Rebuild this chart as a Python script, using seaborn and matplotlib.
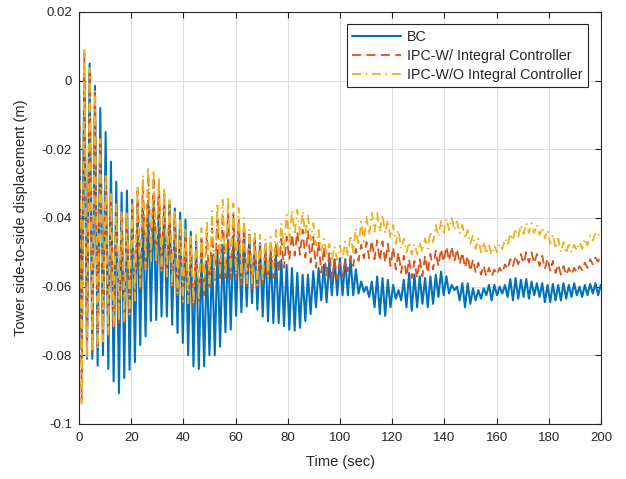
import numpy as np
import pandas as pd
import seaborn as sns
import matplotlib
matplotlib.use("Agg")
import matplotlib.pyplot as plt
from matplotlib.ticker import FixedLocator, FixedFormatter

# ---------------- data ----------------
PERIOD = 2.04          # oscillation period (s) of the tower mode
START_VALUE = 0.0      # value at t = 0 for all series

# BC: troughs (t = 1.02 + 2.04k) and peaks (t = 2.04(k+1))
bc_trough = [
    -0.078, -0.081, -0.081, -0.083, -0.080, -0.084, -0.0876, -0.091, -0.0866, -0.0842,
    -0.082, -0.077, -0.0745, -0.070, -0.0697, -0.0687, -0.0687, -0.0711, -0.0735, -0.0764,
    -0.080, -0.0832, -0.084, -0.0832, -0.080, -0.080, -0.0775, -0.0733, -0.0725, -0.0685,
    -0.0675, -0.0658, -0.0648, -0.0667, -0.0687, -0.0701, -0.0706, -0.0706, -0.0715, -0.0725,
    -0.0728, -0.072, -0.070, -0.068, -0.066, -0.064, -0.0645, -0.0625, -0.0625, -0.0625,
    -0.0625, -0.0625, -0.062, -0.0615, -0.063, -0.066, -0.068, -0.0685, -0.066, -0.0635,
    -0.064, -0.066, -0.067, -0.066, -0.065, -0.066, -0.065, -0.063, -0.0625, -0.062,
    -0.061, -0.064, -0.066, -0.065, -0.064, -0.0635, -0.0625, -0.064, -0.0625, -0.062,
    -0.063, -0.064, -0.0635, -0.063, -0.0635, -0.0625, -0.063, -0.0645, -0.0645, -0.064,
    -0.064, -0.0635, -0.063, -0.0625, -0.063, -0.0625, -0.062, -0.0625,
]
bc_peak = [
    0.002, 0.005, -0.0015, -0.008, -0.015, -0.0236, -0.0294, -0.0326, -0.032, -0.0347,
    -0.036, -0.036, -0.035, -0.034, -0.034, -0.035, -0.036, -0.0372, -0.0384, -0.0405,
    -0.044, -0.0468, -0.050, -0.0527, -0.051, -0.0493, -0.0478, -0.0464, -0.0452, -0.0435,
    -0.0435, -0.0449, -0.0459, -0.0473, -0.0478, -0.0493, -0.0507, -0.0522, -0.0537, -0.0546,
    -0.056, -0.0565, -0.0565, -0.0555, -0.0546, -0.0536, -0.0527, -0.052, -0.0517, -0.052,
    -0.052, -0.055, -0.0585, -0.060, -0.0585, -0.057, -0.0575, -0.058, -0.0595, -0.061,
    -0.058, -0.056, -0.0565, -0.057, -0.0575, -0.057, -0.0565, -0.0556, -0.057, -0.0595,
    -0.060, -0.059, -0.059, -0.0605, -0.061, -0.0605, -0.0595, -0.0595, -0.060, -0.0595,
    -0.0578, -0.0575, -0.058, -0.0578, -0.0585, -0.059, -0.059, -0.0595, -0.0592, -0.0595,
    -0.059, -0.0595, -0.059, -0.060, -0.0595, -0.0592, -0.059, -0.0595,
]

# IPC-W/ Integral Controller
ipcw_trough = [
    -0.093, -0.080, -0.079, -0.078, -0.076, -0.074, -0.0725, -0.0705, -0.0705, -0.0685,
    -0.0645, -0.0605, -0.0555, -0.053, -0.0535, -0.056, -0.0575, -0.0605, -0.0625, -0.0648,
    -0.0655, -0.0658, -0.065, -0.0625, -0.060, -0.0585, -0.0575, -0.0575, -0.0578, -0.0585,
    -0.0595, -0.060, -0.0605, -0.060, -0.059, -0.058, -0.0575, -0.056, -0.0545, -0.0522,
    -0.051, -0.0507, -0.0515, -0.053, -0.0545, -0.056, -0.057, -0.058, -0.0578, -0.057,
    -0.0555, -0.054, -0.0525, -0.0517, -0.0517, -0.052, -0.0525, -0.053, -0.054, -0.055,
    -0.056, -0.057, -0.0575, -0.0575, -0.057, -0.056, -0.055, -0.054, -0.0528, -0.0525,
    -0.0527, -0.0535, -0.0545, -0.0555, -0.056, -0.0565, -0.057, -0.057, -0.0565, -0.056,
    -0.055, -0.054, -0.0535, -0.0532, -0.053, -0.0532, -0.054, -0.0548, -0.0555, -0.056,
    -0.0565, -0.0566, -0.0565, -0.056, -0.0552, -0.0545, -0.0535, -0.0527,
]
ipcw_peak = [
    0.008, 0.003, -0.004, -0.018, -0.028, -0.034, -0.037, -0.039, -0.039, -0.037,
    -0.032, -0.029, -0.027, -0.028, -0.030, -0.033, -0.036, -0.039, -0.0415, -0.045,
    -0.047, -0.0483, -0.046, -0.0444, -0.043, -0.0405, -0.0386, -0.038, -0.039, -0.0405,
    -0.042, -0.0444, -0.0464, -0.0483, -0.0493, -0.0485, -0.0473, -0.046, -0.0454, -0.0447,
    -0.044, -0.0434, -0.0438, -0.0455, -0.047, -0.0485, -0.050, -0.052, -0.053, -0.0525,
    -0.051, -0.049, -0.0478, -0.047, -0.0465, -0.0465, -0.0468, -0.0475, -0.0485, -0.050,
    -0.051, -0.052, -0.0525, -0.052, -0.051, -0.0505, -0.0495, -0.049, -0.0483, -0.0483,
    -0.049, -0.050, -0.051, -0.052, -0.053, -0.0538, -0.0545, -0.055, -0.0545, -0.0535,
    -0.052, -0.051, -0.0505, -0.050, -0.050, -0.0505, -0.051, -0.0518, -0.0525, -0.0535,
    -0.054, -0.0546, -0.0545, -0.054, -0.053, -0.052, -0.0515, -0.051,
]

# IPC-W/O Integral Controller
ipcwo_trough = [
    -0.094, -0.081, -0.079, -0.078, -0.076, -0.074, -0.072, -0.070, -0.070, -0.068,
    -0.064, -0.060, -0.055, -0.0525, -0.053, -0.0555, -0.057, -0.060, -0.0619, -0.0643,
    -0.0648, -0.065, -0.064, -0.061, -0.059, -0.0575, -0.056, -0.0565, -0.056, -0.0565,
    -0.0575, -0.059, -0.0595, -0.0595, -0.0585, -0.057, -0.055, -0.052, -0.049, -0.0468,
    -0.045, -0.0449, -0.0452, -0.0465, -0.048, -0.0495, -0.051, -0.052, -0.0522, -0.052,
    -0.0512, -0.050, -0.048, -0.0468, -0.045, -0.044, -0.044, -0.0445, -0.046, -0.0475,
    -0.049, -0.050, -0.0507, -0.0505, -0.050, -0.049, -0.047, -0.0455, -0.0443, -0.0435,
    -0.0435, -0.0445, -0.046, -0.0475, -0.049, -0.050, -0.0505, -0.0507, -0.050, -0.049,
    -0.0478, -0.0465, -0.0455, -0.0447, -0.0444, -0.0444, -0.045, -0.046, -0.0475, -0.049,
    -0.050, -0.0503, -0.050, -0.0495, -0.049, -0.048, -0.0465, -0.0452,
]
ipcwo_peak = [
    0.009, 0.0037, -0.003, -0.017, -0.027, -0.033, -0.036, -0.038, -0.038, -0.036,
    -0.0304, -0.0275, -0.025, -0.026, -0.028, -0.031, -0.0347, -0.0375, -0.040, -0.0434,
    -0.0454, -0.0449, -0.043, -0.0405, -0.038, -0.0355, -0.0347, -0.0337, -0.0357, -0.0371,
    -0.040, -0.0434, -0.0444, -0.0449, -0.0459, -0.0455, -0.0434, -0.0415, -0.039, -0.0378,
    -0.0376, -0.038, -0.039, -0.0415, -0.0435, -0.046, -0.0475, -0.0483, -0.048, -0.0468,
    -0.045, -0.043, -0.041, -0.0396, -0.0385, -0.0385, -0.039, -0.0405, -0.042, -0.0435,
    -0.046, -0.047, -0.0475, -0.047, -0.046, -0.044, -0.042, -0.0408, -0.0402, -0.040,
    -0.041, -0.042, -0.0435, -0.045, -0.046, -0.047, -0.048, -0.048, -0.0475, -0.046,
    -0.0445, -0.043, -0.042, -0.0415, -0.0415, -0.042, -0.0428, -0.0435, -0.0448, -0.046,
    -0.047, -0.0478, -0.0478, -0.047, -0.046, -0.045, -0.0443, -0.0434,
]

labels = ["BC", "IPC-W/ Integral Controller", "IPC-W/O Integral Controller"]
xticks = [0, 20, 40, 60, 80, 100, 120, 140, 160, 180, 200]
yticks = [0.02, 0, -0.02, -0.04, -0.06, -0.08, -0.1]
ytick_labels = ["0.02", "0", "-0.02", "-0.04", "-0.06", "-0.08", "-0.1"]


def build_series(troughs, peaks):
    k = np.arange(len(troughs))
    t_tr = PERIOD / 2 + PERIOD * k
    t_pk = PERIOD * (k + 1)
    t = np.concatenate([[0.0], np.column_stack([t_tr, t_pk]).ravel()])
    v = np.concatenate([[START_VALUE], np.column_stack([troughs, peaks]).ravel()])
    return t, v


frames = []
for lab, (tr, pk) in zip(labels, [(bc_trough, bc_peak),
                                  (ipcw_trough, ipcw_peak),
                                  (ipcwo_trough, ipcwo_peak)]):
    t, v = build_series(tr, pk)
    frames.append(pd.DataFrame({"time": t, "disp": v, "series": lab}))
df = pd.concat(frames, ignore_index=True)

# ---------------- style ----------------
sns.set_theme(style="white")
plt.rcParams["font.family"] = ["Liberation Sans", "DejaVu Sans"]

colors = ["#0072BD", "#D95319", "#EDB120"]
styles = ["-", (0, (5, 3)), (0, (5, 2.5, 1, 2.5))]
widths = [1.5, 1.3, 1.3]

fig = plt.figure(figsize=(6.26, 4.79), dpi=100)
ax = fig.add_axes([79 / 626, 1 - 424 / 479, (601 - 79) / 626, (424 - 12) / 479])

for lab, c, ls, lw in zip(labels, colors, styles, widths):
    sub = df[df["series"] == lab]
    sns.lineplot(data=sub, x="time", y="disp", ax=ax, color=c, linewidth=lw,
                 linestyle=ls, sort=False, estimator=None, label=lab)

ax.set_xlim(0, 200)
ax.set_ylim(-0.1, 0.02)
ax.xaxis.set_major_locator(FixedLocator(xticks))
ax.set_xticklabels([str(x) for x in xticks])
ax.yaxis.set_major_locator(FixedLocator(yticks))
ax.yaxis.set_major_formatter(FixedFormatter(ytick_labels))

ax.grid(True, color="#dedede", linewidth=0.8)
ax.set_axisbelow(True)
for sp in ax.spines.values():
    sp.set_color("#262626")
    sp.set_linewidth(0.8)
ax.tick_params(direction="in", length=4, width=0.8, color="#262626",
               labelsize=9.5, labelcolor="#262626", top=True, right=True,
               bottom=True, left=True)
ax.tick_params(axis="x", pad=6)
ax.tick_params(axis="y", pad=5)

ax.set_xlabel("Time (sec)", fontsize=10.5, color="#262626", labelpad=8)
ax.set_ylabel("Tower side-to-side displacement (m)", fontsize=10.5,
              color="#262626", labelpad=10)

leg = ax.legend(loc="upper right", bbox_to_anchor=(0.975, 0.971),
                borderaxespad=0, fontsize=10.3, frameon=True, fancybox=False,
                handlelength=3.4, handletextpad=0.4, labelspacing=0.35,
                borderpad=0.4)
leg.get_frame().set_edgecolor("#262626")
leg.get_frame().set_linewidth(0.8)
leg.get_frame().set_facecolor("white")
leg.get_frame().set_alpha(1)
for txt in leg.get_texts():
    txt.set_color("#262626")

fig.savefig("out.png", dpi=100)
